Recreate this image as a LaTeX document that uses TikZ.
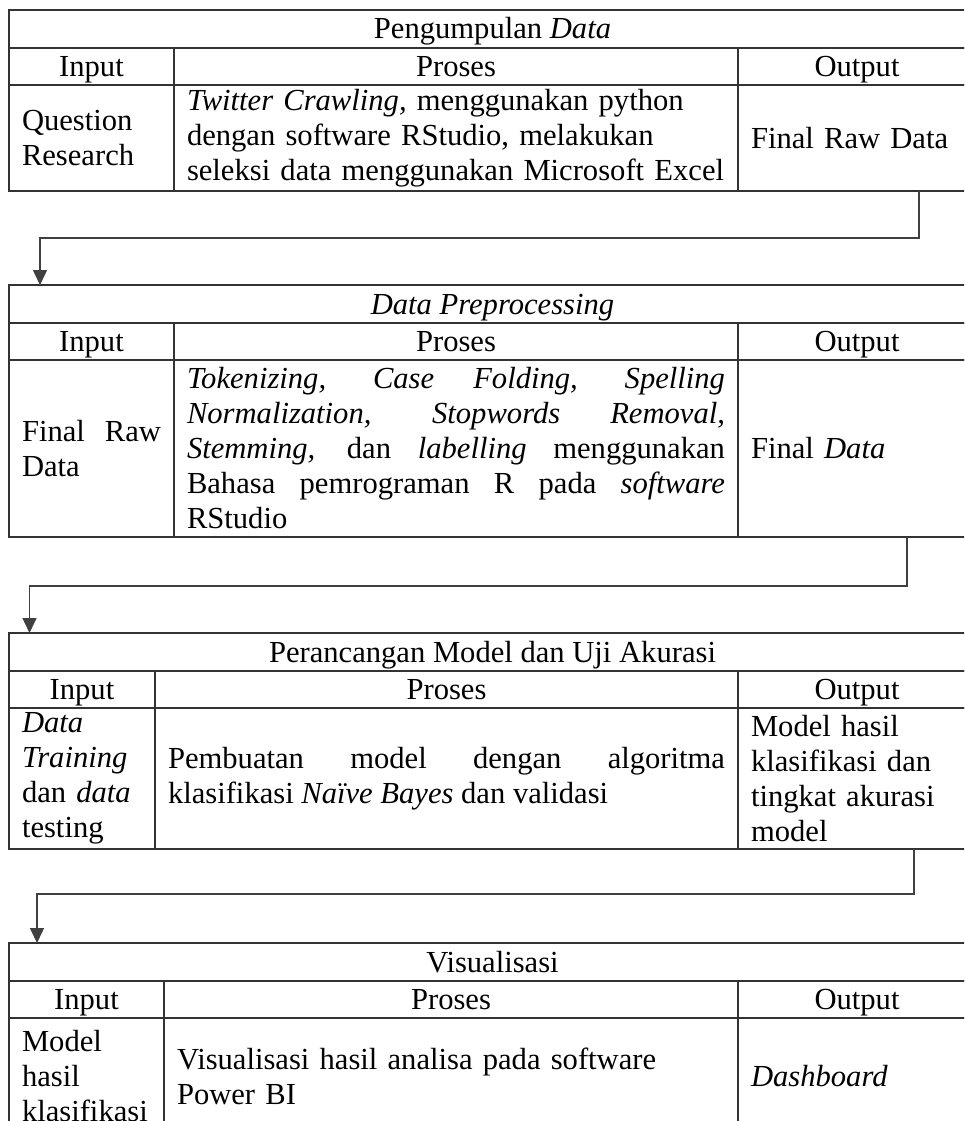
\documentclass[tikz,border=0pt]{standalone}
\usepackage{fontspec}
\setmainfont{Liberation Serif}
\usetikzlibrary{arrows.meta}

\tikzset{
  cellbox/.style={draw=black!80, line width=1.8pt, inner xsep=13pt, inner ysep=0pt,
    outer sep=0pt, anchor=north west, font=\fontsize{30.6}{35}\selectfont},
  titlebox/.style={cellbox, minimum width=967pt, minimum height=38pt,
    text height=24pt, text depth=4pt},
  headbox/.style={cellbox, minimum height=37pt, text height=24pt, text depth=4pt},
  link/.style={draw=black!75, line width=1.5pt, -{Triangle[length=15pt,width=14pt]}}
}

\begin{document}
\begin{tikzpicture}[x=1pt,y=-1pt]
    \useasboundingbox (0,0) rectangle (964,1121);
    \clip (0,0) rectangle (964,1121);
    \fill[white] (0,0) rectangle (964,1121);
    % Pengumpulan Data
    \node[titlebox] (t1t) at (9,10) {Pengumpulan \textit{Data}};
    \node[headbox, minimum width=165pt] (t1i) at (t1t.south west) {Input};
    \node[headbox, minimum width=564pt] (t1p) at (t1i.north east) {Proses};
    \node[headbox, minimum width=238pt] (t1o) at (t1p.north east) {Output};
    \node[cellbox, minimum height=106pt, text width=139pt, align=left] (t1bi) at (t1i.south west)
      {Question\\Research};
    \node[cellbox, minimum height=106pt, text width=538pt, align=left] (t1bp) at (t1bi.north east)
      {\textit{Twitter Crawling,} menggunakan python\\
       dengan software RStudio, melakukan\\
       seleksi data menggunakan Microsoft Excel};
    \node[cellbox, minimum height=106pt, text width=212pt, align=left] (t1bo) at (t1bp.north east)
      {Final Raw Data};
    % Data Preprocessing
    \node[titlebox] (t2t) at (9,285) {\textit{Data Preprocessing}};
    \node[headbox, minimum width=165pt] (t2i) at (t2t.south west) {Input};
    \node[headbox, minimum width=564pt] (t2p) at (t2i.north east) {Proses};
    \node[headbox, minimum width=238pt] (t2o) at (t2p.north east) {Output};
    \node[cellbox, minimum height=177pt, text width=139pt, align=justify] (t2bi) at (t2i.south west)
      {\makebox[139pt][s]{Final Raw}\\Data};
    \node[cellbox, minimum height=177pt, text width=538pt, align=justify] (t2bp) at (t2bi.north east)
      {\makebox[538pt][s]{\textit{Tokenizing,} \textit{Case Folding,} \textit{Spelling}}\\
       \makebox[538pt][s]{\textit{Normalization,} \textit{Stopwords Removal,}}\\
       \makebox[538pt][s]{\textit{Stemming,} dan \textit{labelling} menggunakan}\\
       \makebox[538pt][s]{Bahasa pemrograman R pada \textit{software}}\\
       RStudio};
    \node[cellbox, minimum height=177pt, text width=212pt, align=left] (t2bo) at (t2bp.north east)
      {Final \textit{Data}};
    % Perancangan Model dan Uji Akurasi
    \node[titlebox] (t3t) at (9,633) {Perancangan Model dan Uji Akurasi};
    \node[headbox, minimum width=146pt] (t3i) at (t3t.south west) {Input};
    \node[headbox, minimum width=583pt] (t3p) at (t3i.north east) {Proses};
    \node[headbox, minimum width=238pt] (t3o) at (t3p.north east) {Output};
    \node[cellbox, minimum height=141pt, text width=120pt, align=left] (t3bi) at (t3i.south west)
      {\textit{Data}\\\textit{Training}\\dan \textit{data}\\testing};
    \node[cellbox, minimum height=141pt, text width=557pt, align=justify] (t3bp) at (t3bi.north east)
      {\makebox[557pt][s]{Pembuatan model dengan algoritma}\\
       klasifikasi \textit{Naïve Bayes} dan validasi};
    \node[cellbox, minimum height=141pt, text width=212pt, align=left] (t3bo) at (t3bp.north east)
      {Model hasil\\klasifikasi dan\\tingkat akurasi\\model};
    % Visualisasi
    \node[titlebox] (t4t) at (9,943) {Visualisasi};
    \node[headbox, minimum width=155pt] (t4i) at (t4t.south west) {Input};
    \node[headbox, minimum width=574pt] (t4p) at (t4i.north east) {Proses};
    \node[headbox, minimum width=238pt] (t4o) at (t4p.north east) {Output};
    \node[cellbox, minimum height=116pt, text width=129pt, align=left] (t4bi) at (t4i.south west)
      {Model\\hasil\\klasifikasi};
    \node[cellbox, minimum height=116pt, text width=548pt, align=left] (t4bp) at (t4bi.north east)
      {Visualisasi hasil analisa pada software\\Power BI};
    \node[cellbox, minimum height=116pt, text width=212pt, align=left] (t4bo) at (t4bp.north east)
      {\textit{Dashboard}};
    % alur antar tahap
    \draw[link] ([xshift=62pt]t1bo.south) -- ++(0,47) -| ([xshift=31pt]t2t.north west);
    \draw[link] ([xshift=50pt]t2bo.south) -- ++(0,49) -| ([xshift=20.5pt]t3t.north west);
    \draw[link] ([xshift=57pt]t3bo.south) -- ++(0,45) -| ([xshift=28pt]t4t.north west);
\end{tikzpicture}
\end{document}
